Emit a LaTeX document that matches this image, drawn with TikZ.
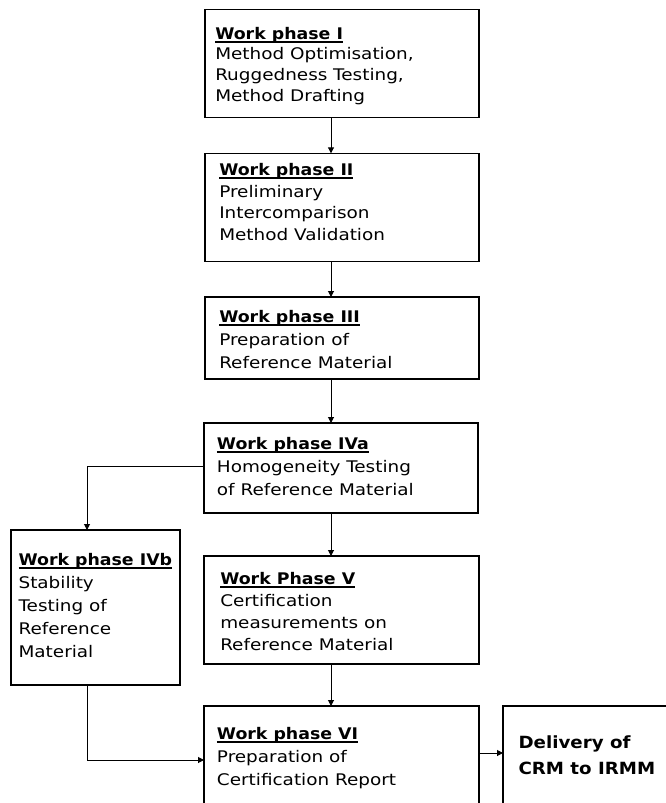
\documentclass[tikz,border=0pt]{standalone}
\usepackage{fontspec}
\setmainfont{DejaVu Sans}[FakeStretch=1.15, BoldFeatures={FakeStretch=1.085}]
\usetikzlibrary{arrows.meta,fit}
\newcommand\wpul[1]{\setbox0\hbox{\bfseries #1}\rlap{\rule[-2.6pt]{\wd0}{1.5pt}}\box0}
\begin{document}
\begin{tikzpicture}[x=0.75pt,y=-0.75pt,
  box/.style={draw, line width=0.8pt, inner sep=0pt, outer sep=0pt},
  txt/.style={anchor=north west, inner sep=0pt, align=left, font=\fontsize{12}{#1}\selectfont},
  arr/.style={line width=0.75pt, -{Triangle[length=4.5pt,width=4.5pt]}}]
\useasboundingbox (0,0) rectangle (666,803);
\clip (0,0) rectangle (666,803);
% boxes
\node[box, fit={(205,9.5) (479,117.5)}] (I) {};
\node[box, fit={(205,153.3) (479,261.5)}] (II) {};
\node[box, fit={(205,297) (479,379)}] (III) {};
\node[box, fit={(204,423) (478,513)}] (IVa) {};
\node[box, fit={(11,530) (180,685)}] (IVb) {};
\node[box, fit={(204,556) (479,664)}] (V) {};
\node[box, fit={(204,706) (479,830)}] (VI) {};
\node[box, fit={(503,706) (700,830)}] (Del) {};
% texts
\node[txt=15.5pt] (tI) at (215,23) {\rule{0pt}{12pt}\wpul{Work phase I}\\Method Optimisation,\\Ruggedness Testing,\\Method Drafting};
\node[txt=16.3pt] (tII) at (219,159) {\rule{0pt}{12pt}\wpul{Work phase II}\\Preliminary\\Intercomparison\\Method Validation};
\node[txt=17.1pt] (tIII) at (219,306.7) {\rule{0pt}{12pt}\wpul{Work phase III}\\Preparation of\\Reference Material};
\node[txt=17.1pt] (tIVa) at (216.7,433.3) {\rule{0pt}{12pt}\wpul{Work phase IVa}\\Homogeneity Testing\\of Reference Material};
\node[txt=17.2pt] (tIVb) at (18.3,549) {\rule{0pt}{12pt}\wpul{Work phase IVb}\\Stability\\Testing of\\Reference\\Material};
\node[txt=16.5pt] (tV) at (220,568) {\rule{0pt}{12pt}\wpul{Work Phase V}\\Certification\\measurements on\\Reference Material};
\node[txt=17.1pt] (tVI) at (216.7,723.3) {\rule{0pt}{12pt}\wpul{Work phase VI}\\Preparation of\\Certification Report};
\node[txt=19.3pt, font=\fontsize{12.6}{19.3pt}\selectfont\bfseries] (tDel) at (518.3,732.3) {\rule{0pt}{12pt}Delivery of\\CRM to IRMM};
% connectors
\coordinate (ax) at (331,0);
\draw[arr] (I.south -| ax) -- (II.north -| ax);
\draw[arr] (II.south -| ax) -- (III.north -| ax);
\draw[arr] (III.south -| ax) -- (IVa.north -| ax);
\draw[arr] (IVa.south -| ax) -- (V.north -| ax);
\draw[arr] (V.south -| ax) -- (VI.north -| ax);
\coordinate (bx) at (87,466);
\draw[arr] (IVa.west |- bx) -| (IVb.north -| bx);
\coordinate (cx) at (87,760);
\draw[arr] (IVb.south -| cx) |- (VI.west |- cx);
\coordinate (dy) at (0,753);
\draw[arr] (VI.east |- dy) -- (Del.west |- dy);
\end{tikzpicture}
\end{document}
